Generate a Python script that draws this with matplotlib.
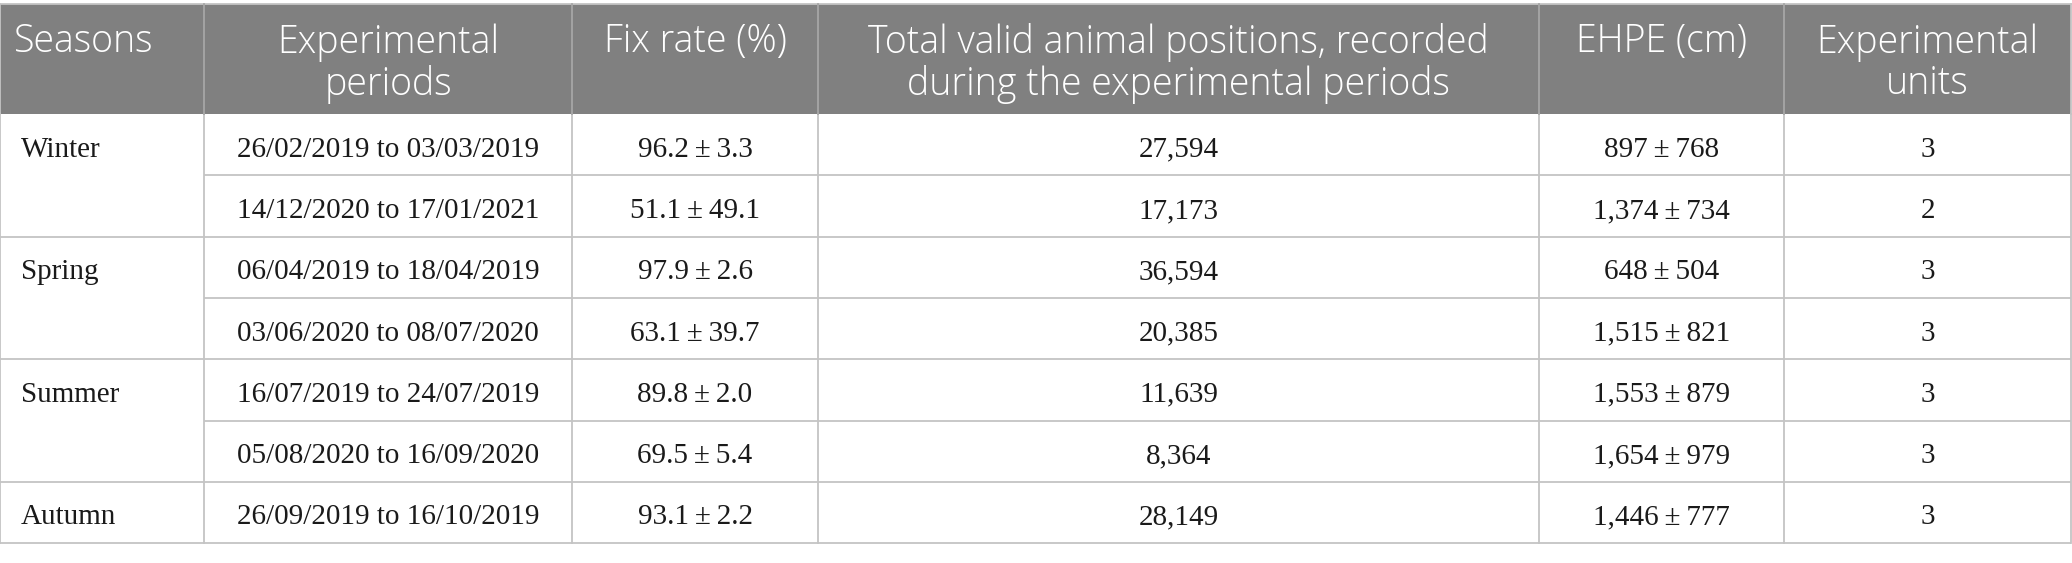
import matplotlib
matplotlib.use("Agg")
import matplotlib.pyplot as plt
from matplotlib.patches import Rectangle

# table content
headers = ["Seasons", "Experimental\nperiods", "Fix rate (%)",
           "Total valid animal positions, recorded\nduring the experimental periods",
           "EHPE (cm)", "Experimental\nunits"]
seasons = ["Winter", "Spring", "Summer", "Autumn"]
periods_per_season = [2, 2, 2, 1]
periods = ["26/02/2019 to 03/03/2019", "14/12/2020 to 17/01/2021",
           "06/04/2019 to 18/04/2019", "03/06/2020 to 08/07/2020",
           "16/07/2019 to 24/07/2019", "05/08/2020 to 16/09/2020",
           "26/09/2019 to 16/10/2019"]
fix_mean = [96.2, 51.1, 97.9, 63.1, 89.8, 69.5, 93.1]
fix_sd = [3.3, 49.1, 2.6, 39.7, 2.0, 5.4, 2.2]
positions = [27594, 17173, 36594, 20385, 11639, 8364, 28149]
ehpe_mean = [897, 1374, 648, 1515, 1553, 1654, 1446]
ehpe_sd = [768, 734, 504, 821, 879, 979, 777]
units = [3, 2, 3, 3, 3, 3, 3]

# layout (pixels)
W, H = 2072, 563
col_edges = [0, 204, 572, 818, 1539, 1784, 2071]
head_top, head_bot = 4, 114
row_h = 61.3

header_bg = "#808080"
line_col = "#c4c4c4"
head_line_col = "#a6a6a6"
head_font = ["Open Sans", "DejaVu Sans"]
body_font = ["Liberation Serif", "DejaVu Serif"]

fig = plt.figure(figsize=(W / 100, H / 100), dpi=100)
ax = fig.add_axes([0, 0, 1, 1])
ax.set_xlim(0, W)
ax.set_ylim(H, 0)
ax.axis("off")

# header
ax.add_patch(Rectangle((col_edges[0], head_top), col_edges[-1] - col_edges[0],
                       head_bot - head_top, facecolor=header_bg, edgecolor="none"))
for i, h in enumerate(headers):
    if i == 0:
        x, ha = col_edges[0] + 14, "left"
    else:
        x, ha = (col_edges[i] + col_edges[i + 1]) / 2, "center"
    ax.text(x, head_top + 19, h, ha=ha, va="top", ma="center", color="white",
            fontsize=27, family=head_font, weight="light", linespacing=1.1)

n_rows = len(periods)
row_tops = [head_bot + k * row_h for k in range(n_rows + 1)]
bottom = row_tops[-1]

# body cells
for k in range(n_rows):
    yc = row_tops[k] + row_h / 2 + 2
    cells = [periods[k],
             f"{fix_mean[k]:.1f}\u2009±\u2009{fix_sd[k]:.1f}",
             f"{positions[k]:,}",
             f"{ehpe_mean[k]:,}\u2009±\u2009{ehpe_sd[k]:,}",
             str(units[k])]
    for j, c in enumerate(cells, start=1):
        ax.text((col_edges[j] + col_edges[j + 1]) / 2, yc, c, ha="center",
                va="center_baseline", fontsize=21, family=body_font, color="#1a1a1a")

# seasons + horizontal rules
start = 0
for s, n in zip(seasons, periods_per_season):
    yc = row_tops[start] + row_h / 2 + 2
    ax.text(col_edges[0] + 21, yc, s, ha="left", va="center_baseline",
            fontsize=21, family=body_font, color="#1a1a1a")
    for k in range(start + 1, start + n):
        ax.plot([col_edges[1], col_edges[-1]], [row_tops[k]] * 2,
                color=line_col, lw=1.3, solid_capstyle="butt")
    start += n
    ax.plot([col_edges[0], col_edges[-1]], [row_tops[start]] * 2,
            color=line_col, lw=1.3, solid_capstyle="butt")

ax.plot([col_edges[0], col_edges[-1]], [head_top] * 2, color=line_col, lw=1.3)

# vertical rules
for j, x in enumerate(col_edges):
    ax.plot([x, x], [head_bot, bottom], color=line_col, lw=1.3)
    inner = 0 < j < len(col_edges) - 1
    ax.plot([x, x], [head_top, head_bot], color=head_line_col if inner else line_col, lw=1.3)

fig.savefig("out.png", dpi=100, facecolor="white")
